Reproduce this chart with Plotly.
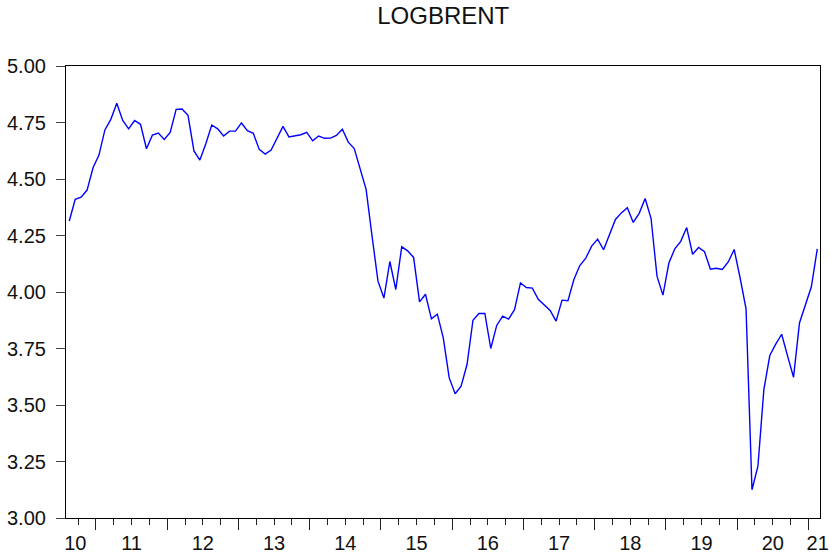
import plotly.graph_objects as go

# monthly series, first observation 2010M08
start_year = 2010
start_month = 8
logbrent = [
    4.314, 4.41, 4.42, 4.451, 4.55, 4.606, 4.717, 4.764, 4.835, 4.759,
    4.722, 4.759, 4.742, 4.634, 4.694, 4.703, 4.675, 4.706, 4.808, 4.81,
    4.782, 4.624, 4.584, 4.656, 4.739, 4.722, 4.69, 4.712, 4.712, 4.748,
    4.714, 4.702, 4.631, 4.61, 4.628, 4.68, 4.733, 4.686, 4.69, 4.696,
    4.706, 4.669, 4.69, 4.68, 4.681, 4.693, 4.72, 4.663, 4.635, 4.547,
    4.454, 4.247, 4.048, 3.973, 4.135, 4.011, 4.2, 4.182, 4.153, 3.956,
    3.99, 3.881, 3.902, 3.797, 3.62, 3.55, 3.583, 3.679, 3.875, 3.905,
    3.905, 3.75, 3.852, 3.893, 3.88, 3.922, 4.04, 4.02, 4.017, 3.968,
    3.945, 3.918, 3.871, 3.964, 3.961, 4.055, 4.117, 4.15, 4.203, 4.234,
    4.187, 4.252, 4.321, 4.35, 4.373, 4.308, 4.348, 4.414, 4.325, 4.07,
    3.986, 4.128, 4.191, 4.224, 4.285, 4.167, 4.197, 4.178, 4.101, 4.105,
    4.1, 4.133, 4.188, 4.062, 3.925, 3.125, 3.229, 3.568, 3.719, 3.769,
    3.813, 3.716, 3.623, 3.863, 3.944, 4.023, 4.191,
]
year_labels = ["10", "11", "12", "13", "14", "15", "16", "17", "18", "19", "20", "21"]
y_ticks = [3.00, 3.25, 3.50, 3.75, 4.00, 4.25, 4.50, 4.75, 5.00]

# observations sit in the middle of each month
x = [start_year + (start_month - 1 + i + 0.5) / 12 for i in range(len(logbrent))]

x_range = [2010.579, 2021.163]
label_pos = [2010.71] + [y + 0.5 for y in range(2011, 2021)] + [2021.13]
year_ticks = list(range(2011, 2022))
quarter_ticks = [y + q / 4 for y in range(2010, 2021) for q in (1, 2, 3)
                 if x_range[0] < y + q / 4 < x_range[1]]

font_family = "Liberation Sans, Arial, sans-serif"

fig = go.Figure()
fig.add_trace(go.Scatter(x=x, y=logbrent, mode="lines",
                         line=dict(color="#0000ff", width=1.4),
                         showlegend=False, hoverinfo="x+y"))
fig.add_trace(go.Scatter(x=[], y=[], xaxis="x2", showlegend=False))

fig.update_layout(
    width=830, height=559,
    margin=dict(l=66, r=10, t=66, b=41),
    paper_bgcolor="white", plot_bgcolor="white",
    font=dict(family=font_family, color="#111111"),
    title=dict(text="LOGBRENT", x=0.534, xanchor="center", y=0.972, yanchor="middle",
               font=dict(size=24, family=font_family, color="#111111")),
    xaxis=dict(
        range=x_range, tickmode="array", tickvals=label_pos, ticktext=year_labels,
        ticks="", showgrid=False, zeroline=False, automargin=False,
        showline=True, linecolor="black", linewidth=1.2, mirror=True,
        tickfont=dict(size=20), ticklabelstandoff=7,
        minor=dict(tickmode="array", tickvals=quarter_ticks, ticks="outside",
                   ticklen=6, tickwidth=1, tickcolor="#222222", showgrid=False),
    ),
    xaxis2=dict(
        range=x_range, overlaying="x", anchor="y", side="bottom", automargin=False,
        tickmode="array", tickvals=year_ticks, ticks="outside", ticklen=11,
        tickwidth=1, tickcolor="#222222", showticklabels=False,
        showgrid=False, zeroline=False, showline=False,
    ),
    yaxis=dict(
        range=[3.0, 5.0], tickmode="array", tickvals=y_ticks, tickformat=".2f",
        ticks="outside", ticklen=9, tickwidth=1, tickcolor="#444444",
        showgrid=False, zeroline=False, automargin=False,
        showline=True, linecolor="black", linewidth=1.2, mirror=True,
        tickfont=dict(size=20), ticklabelstandoff=6,
    ),
)

# drop the browser's default page margin so the 830x559 figure fills the window
fig.write_html("out.html", config={"displayModeBar": False},
               post_script="document.body.style.margin = '0';")
